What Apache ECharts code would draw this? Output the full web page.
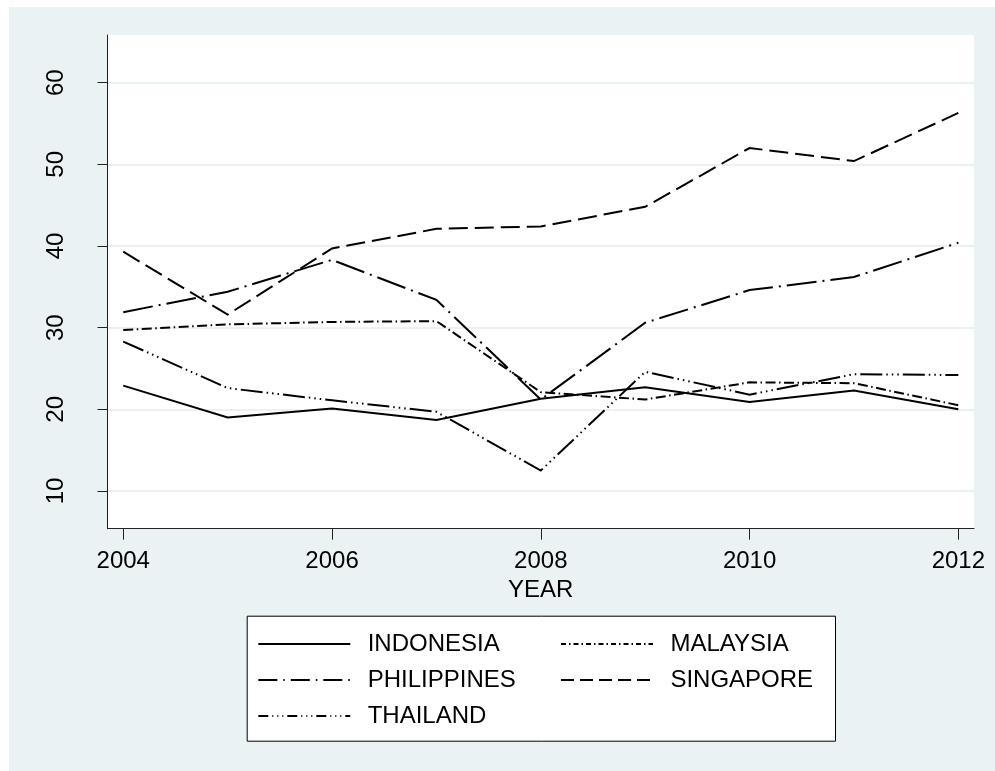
<!DOCTYPE html>
<html>
<head>
<meta charset="utf-8">
<script src="https://cdn.jsdelivr.net/npm/echarts@6/dist/echarts.min.js"></script>
<style>
  html, body { margin: 0; padding: 0; background: #ffffff; width: 995px; height: 771px; overflow: hidden; }
  #chart { position: absolute; left: 9px; top: 7px; width: 986px; height: 764px; }
</style>
</head>
<body>
<div id="chart"></div>
<script>
// Yearly values per country
const years = [2004, 2005, 2006, 2007, 2008, 2009, 2010, 2011, 2012];
const indonesia   = [22.9, 19.0, 20.1, 18.7, 21.3, 22.7, 20.9, 22.3, 20.0];
const malaysia    = [29.7, 30.4, 30.7, 30.8, 22.1, 21.2, 23.3, 23.2, 20.5];
const philippines = [31.9, 34.4, 38.3, 33.4, 21.2, 30.6, 34.6, 36.2, 40.4];
const singapore   = [39.3, 31.6, 39.7, 42.1, 42.4, 44.8, 52.0, 50.4, 56.3];
const thailand    = [28.3, 22.6, 21.1, 19.7, 12.5, 24.6, 21.8, 24.3, 24.2];

// Axis tick labels
const yTicks = [10, 20, 30, 40, 50, 60];
const xTicks = [2004, 2006, 2008, 2010, 2012];

const FONT = '"Liberation Sans", Arial, Helvetica, sans-serif';
const BG = '#eaf2f3';

// Line patterns drawn in the plot and (shorter) in the legend keys
const styles = {
  INDONESIA:   { plot: 'solid',                          key: 'solid' },
  MALAYSIA:    { plot: [10, 3.5, 1.5, 3.5],              key: [5, 3, 1.5, 3] },
  PHILIPPINES: { plot: [30, 6, 2, 6],                    key: [19, 6, 1.5, 6] },
  SINGAPORE:   { plot: [19, 7],                          key: [13, 6] },
  THAILAND:    { plot: [22, 4, 1.5, 4, 1.5, 4, 1.5, 4],  key: [10, 4, 1, 4, 1, 4, 1, 4] }
};

const seriesDefs = [
  ['INDONESIA', indonesia],
  ['MALAYSIA', malaysia],
  ['PHILIPPINES', philippines],
  ['SINGAPORE', singapore],
  ['THAILAND', thailand]
];
// Legend columns
const leftColumn = ['INDONESIA', 'PHILIPPINES', 'THAILAND'];
const rightColumn = ['MALAYSIA', 'SINGAPORE'];

function legendColumn(names, left) {
  return {
    left, top: 625,
    orient: 'vertical',
    padding: 0,
    itemGap: 12,
    itemWidth: 92,
    itemHeight: 14,
    selectedMode: false,
    itemStyle: { opacity: 0 },
    data: names.map(name => ({
      name,
      itemStyle: { opacity: 0 },
      lineStyle: { type: styles[name].key, width: 2, color: '#000' }
    })),
    formatter: name => '{t|' + name + '}',
    textStyle: {
      fontFamily: FONT, fontSize: 24, color: '#000',
      rich: { t: { padding: [0, 0, 0, 12.4], fontSize: 24, color: '#000', fontFamily: FONT } }
    },
    z: 5
  };
}

const chart = echarts.init(document.getElementById('chart'), null, { renderer: 'canvas' });

chart.setOption({
  animation: false,
  backgroundColor: BG,
  textStyle: { fontFamily: FONT },
  grid: {
    left: 98.5, right: 21, top: 28, bottom: 242.3,
    show: true, backgroundColor: '#ffffff', borderWidth: 0,
    containLabel: false
  },
  // frame around the legend keys
  graphic: [{
    type: 'rect',
    left: 237.7, top: 608.7,
    shape: { width: 588.3, height: 125 },
    style: { fill: '#ffffff', stroke: '#000', lineWidth: 1 },
    silent: true,
    z: 1
  }],
  xAxis: {
    type: 'value',
    min: 2003.849, max: 2012.15,
    name: 'YEAR',
    nameLocation: 'middle',
    nameGap: 49,
    nameTextStyle: { fontSize: 24, color: '#000', fontFamily: FONT },
    axisLine: { show: true, onZero: false, lineStyle: { color: '#222', width: 1 } },
    axisTick: { show: true, length: 11, customValues: xTicks, lineStyle: { color: '#222', width: 1 } },
    axisLabel: { customValues: xTicks, fontSize: 24, color: '#000', margin: 21, fontFamily: FONT,
                 formatter: v => String(v) },
    splitLine: { show: false }
  },
  yAxis: {
    type: 'value',
    min: 5.38, max: 65.84,
    axisLine: { show: true, onZero: false, lineStyle: { color: '#222', width: 1 } },
    axisTick: { show: true, length: 10, customValues: yTicks, lineStyle: { color: '#222', width: 1 } },
    axisLabel: { customValues: yTicks, fontSize: 24, color: '#000', rotate: 90, margin: 39, fontFamily: FONT },
    splitLine: { show: true, customValues: yTicks, lineStyle: { color: BG, width: 2 } }
  },
  legend: [legendColumn(leftColumn, 248.3), legendColumn(rightColumn, 551)],
  series: seriesDefs.map(([name, values]) => ({
    name,
    type: 'line',
    data: years.map((y, i) => [y, values[i]]),
    symbol: 'none',
    lineStyle: { color: '#000', width: 2, type: styles[name].plot, cap: 'butt', join: 'miter' },
    itemStyle: { color: '#000' },
    emphasis: { disabled: true },
    silent: true
  }))
});
</script>
</body>
</html>
